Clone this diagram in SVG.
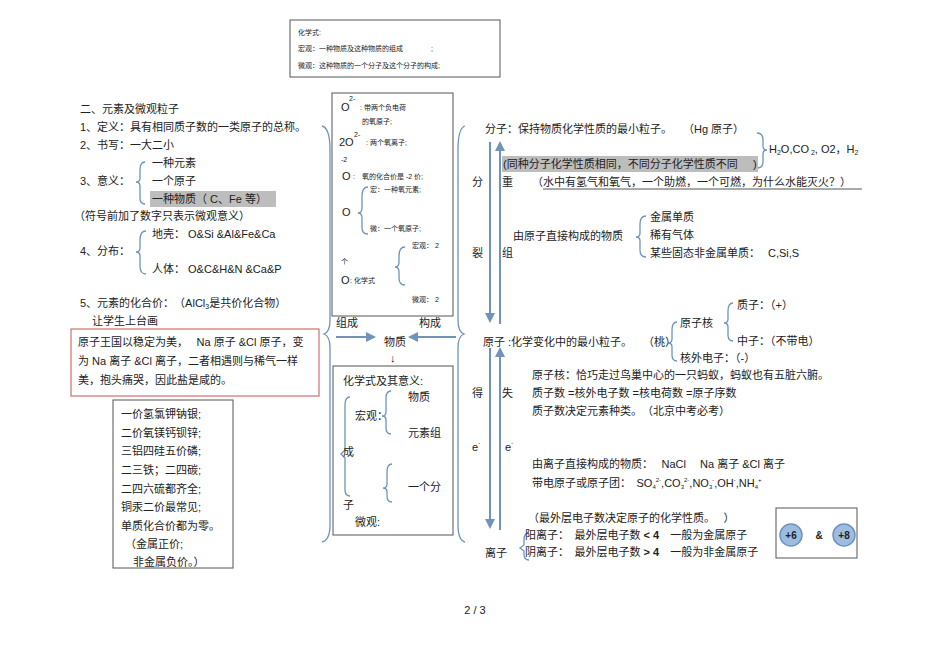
<svg xmlns="http://www.w3.org/2000/svg" width="950" height="672" viewBox="0 0 950 672">
<defs>
<style>
text{font-family:"Liberation Sans","Noto Sans CJK SC",sans-serif;fill:#222}
.t{font-size:11px}
.s{font-size:7px}
.m{font-size:8px}
.br{fill:none;stroke:#6f93bb;stroke-width:1.3}
.box{fill:#fff;stroke:#555;stroke-width:1}
.ar{stroke:#6f93bb;stroke-width:2;fill:none}
</style>
<marker id="ah" viewBox="0 0 10 10" refX="8" refY="5" markerWidth="5" markerHeight="5" orient="auto"><path d="M0,0L10,5L0,10z" fill="#6f93bb"/></marker>
</defs>
<rect width="950" height="672" fill="#fff"/>

<g id="topbox">
<rect class="box" x="290" y="20" width="210" height="57"/>
<text class="s" x="298" y="35">化学式:</text>
<text class="s" x="298" y="51">宏观：一种物质及这种物质的组成　　　　;</text>
<text class="s" x="298" y="68">微观：这种物质的一个分子及这个分子的构成;</text>
</g>

<g id="left">
<text class="t" x="80" y="113">二、元素及微观粒子</text>
<text class="t" x="80" y="131">1、定义：具有相同质子数的一类原子的总称。</text>
<text class="t" x="80" y="149">2、书写：一大二小</text>
<text class="t" x="152" y="167">一种元素</text>
<text class="t" x="80" y="185">3、意义：</text>
<text class="t" x="152" y="185">一个原子</text>
<rect x="150" y="191" width="126" height="16" fill="#bdbdbd"/>
<text class="t" x="152" y="203">一种物质（ C、Fe 等）</text>
<path class="br" d="M145,162 Q140,162 140,170 L140,178 Q140,182 136,182 Q140,182 140,186 L140,198 Q140,204 145,204"/>
<text class="t" x="74" y="220">（符号前加了数字只表示微观意义）</text>
<text class="t" x="152" y="238">地壳： O&amp;Si &amp;Al&amp;Fe&amp;Ca</text>
<text class="t" x="80" y="255">4、分布：</text>
<text class="t" x="152" y="273">人体： O&amp;C&amp;H&amp;N &amp;Ca&amp;P</text>
<path class="br" d="M146,231 Q140,231 140,240 L140,248 Q140,252 136,252 Q140,252 140,256 L140,266 Q140,274 146,274"/>
<text class="t" x="80" y="307">5、元素的化合价：　（AlCl<tspan font-size="7" dy="2">3</tspan><tspan dy="-2">是共价化合物）</tspan></text>
<text class="t" x="92" y="325">让学生上台画</text>
</g>

<g id="redbox">
<rect x="71" y="329" width="248" height="67" fill="#fff" stroke="#d07070" stroke-width="1.2"/>
<text class="t" x="78" y="346">原子王国以稳定为美，　 Na 原子 &amp;Cl 原子，变</text>
<text class="t" x="78" y="365">为 Na 离子 &amp;Cl 离子，二者相遇则与稀气一样</text>
<text class="t" x="78" y="384">美，抱头痛哭，因此盐是咸的。</text>
</g>

<g id="valence">
<rect class="box" x="113" y="400" width="120" height="168"/>
<g font-family="Liberation Serif,Noto Sans CJK SC,serif">
<text class="t" x="121" y="418">一价氢氯钾钠银;</text>
<text class="t" x="121" y="437">二价氧镁钙钡锌;</text>
<text class="t" x="121" y="455">三铝四硅五价磷;</text>
<text class="t" x="121" y="474">二三铁；二四碳;</text>
<text class="t" x="121" y="493">二四六硫都齐全;</text>
<text class="t" x="121" y="511">铜汞二价最常见;</text>
<text class="t" x="121" y="530">单质化合价都为零。</text>
<text class="t" x="125" y="548">（金属正价;</text>
<text class="t" x="133" y="566">非金属负价。）</text>
</g>
</g>

<g id="bigbraces">
<path class="br" d="M322,126 Q330,128 330,150 L330,320 Q330,332 324,334 Q330,336 330,348 L330,525 Q330,540 322,542"/>
<path class="br" d="M465,126 Q458,128 458,150 L458,320 Q458,332 464,334 Q458,336 458,348 L458,525 Q458,540 465,542"/>
</g>

<g id="symbox">
<rect class="box" x="332" y="93" width="121" height="223"/>
<text font-size="11" x="341" y="111">O</text><text class="s" x="349" y="101">2-</text>
<text class="s" x="360" y="110">: 带两个负电荷</text>
<text class="s" x="362" y="124">的氧原子;</text>
<text font-size="11" x="339" y="146">2O</text><text class="s" x="354" y="137">2-</text>
<text class="s" x="366" y="145">: 两个氧离子;</text>
<text class="s" x="341" y="162">-2</text>
<text font-size="11" x="342" y="180">O</text>
<text class="s" x="353" y="179">:　氧的化合价是 -2 价;</text>
<path class="br" d="M368,187 Q362,187 362,196 L362,208 Q362,213 358,213 Q362,213 362,218 L362,228 Q362,234 368,234"/>
<text class="s" x="370" y="192">宏：一种氧元素;</text>
<text font-size="11" x="342" y="216">O</text>
<text class="s" x="370" y="231">微：一个氧原子;</text>
<text class="s" x="412" y="248">宏观： 2</text>
<path class="br" d="M405,247 Q399,247 399,256 L399,262 Q399,267 395,267 Q399,267 399,272 L399,278 Q399,285 405,285"/>
<text class="s" x="341" y="264">个</text>
<text font-size="11" x="341" y="284">O</text><text class="s" x="350" y="283">: 化学式</text>
<text class="s" x="412" y="302">微观： 2</text>
</g>

<g id="wuzhi">
<text class="t" x="336" y="327">组成</text>
<text class="t" x="419" y="327">构成</text>
<line class="ar" x1="336" y1="337" x2="374" y2="337" marker-end="url(#ah)"/>
<line class="ar" x1="456" y1="337" x2="410" y2="337" marker-end="url(#ah)"/>
<text class="t" x="384" y="346">物质</text>
<text class="t" x="390" y="362">↓</text>
</g>

<g id="formulabox">
<rect class="box" x="333" y="366" width="120" height="169"/>
<text class="t" x="343" y="385">化学式及其意义:</text>
<text class="t" x="408" y="401">物质</text>
<text class="t" x="355" y="420">宏观：</text>
<path class="br" d="M391,391 Q386,391 386,398 L386,412 Q386,416 382,416 Q386,416 386,420 L386,428 Q386,434 391,434"/>
<text class="t" x="408" y="437">元素组</text>
<path class="br" d="M350,397 Q345,397 345,405 L345,450 L341,454 L345,458 L345,490 Q345,496 350,496"/>
<text class="t" x="343" y="456">成</text>
<path class="br" d="M392,464 Q387,464 387,472 L387,484 Q387,488 383,488 Q387,488 387,492 L387,496 Q387,502 392,502"/>
<text class="t" x="408" y="491">一个分</text>
<text class="t" x="343" y="509">子</text>
<text class="t" x="355" y="526">微观:</text>
</g>

<g id="connectors">
<line class="ar" x1="490" y1="142" x2="490" y2="321" marker-end="url(#ah)"/>
<line class="ar" x1="500" y1="324" x2="500" y2="143" marker-end="url(#ah)"/>
<line class="ar" x1="490" y1="348" x2="490" y2="527" marker-end="url(#ah)"/>
<line class="ar" x1="500" y1="530" x2="500" y2="349" marker-end="url(#ah)"/>
</g>

<g id="molecule">
<text class="t" x="485" y="133">分子：保持物质化学性质的最小粒子。　　（Hg 原子）</text>
<path class="br" d="M757,133 Q763,133 763,140 L763,146 Q763,150 767,150 Q763,150 763,154 L763,162 Q763,168 757,168"/>
<text class="t" x="769" y="153">H<tspan font-size="7" dy="2">2</tspan><tspan dy="-2">O,CO</tspan><tspan font-size="7" dy="2"> 2</tspan><tspan dy="-2">,  O2，H</tspan><tspan font-size="7" dy="2">2</tspan></text>
<rect x="502" y="156" width="256" height="16" fill="#bdbdbd"/>
<text class="t" x="503" y="168">(同种分子化学性质相同，不同分子化学性质不同</text>
<text class="t" x="753" y="168">)</text>
<text class="t" x="472" y="186">分</text>
<text class="t" x="502" y="186">重</text>
<text class="t" x="532" y="186">（水中有氢气和氧气，一个助燃，一个可燃，为什么水能灭火？）</text>
<line x1="543" y1="189" x2="862" y2="189" stroke="#555" stroke-width="1"/>
<text class="t" x="513" y="240">由原子直接构成的物质</text>
<path class="br" d="M646,216 Q640,216 640,224 L640,233 Q640,237 636,237 Q640,237 640,241 L640,250 Q640,257 646,257"/>
<text class="t" x="650" y="221">金属单质</text>
<text class="t" x="650" y="239">稀有气体</text>
<text class="t" x="650" y="257">某些固态非金属单质：</text>
<text class="t" x="768" y="257">C,Si,S</text>
<text class="t" x="472" y="257">裂</text>
<text class="t" x="502" y="257">组</text>
</g>

<g id="atom">
<text class="t" x="737" y="309">质子：（+）</text>
<path class="br" d="M733,303 Q728,303 728,311 L728,319 Q728,323 724,323 Q728,323 728,327 L728,335 Q728,341 733,341"/>
<text class="t" x="680" y="327">原子核</text>
<text class="t" x="737" y="345">中子：（不带电）</text>
<path class="br" d="M677,322 Q672,322 672,330 L672,339 Q672,343 668,343 Q672,343 672,347 L672,355 Q672,361 677,361"/>
<text class="t" x="680" y="362">核外电子：（-）</text>
<text class="t" x="483" y="346">原子 :化学变化中的最小粒子。</text>
<text class="t" x="643" y="346">（桃）</text>
<text class="t" x="532" y="379">原子核：恰巧走过鸟巢中心的一只蚂蚁，蚂蚁也有五脏六腑。</text>
<text class="t" x="472" y="397">得</text>
<text class="t" x="502" y="397">失</text>
<text class="t" x="532" y="397">质子数 =核外电子数  =核电荷数  =原子序数</text>
<text class="t" x="532" y="415">质子数决定元素种类。　（北京中考必考）</text>
<text class="t" x="472" y="451">e<tspan font-size="6" dy="-6">-</tspan></text>
<text class="t" x="505" y="451">e<tspan font-size="6" dy="-6">-</tspan></text>
</g>

<g id="ion">
<text class="t" x="532" y="468">由离子直接构成的物质：　 NaCl　 Na 离子 &amp;Cl 离子</text>
<text class="t" x="532" y="487">带电原子或原子团：　SO<tspan font-size="6" dy="2">4</tspan><tspan font-size="6" dy="-7">2-</tspan><tspan dy="5">,CO</tspan><tspan font-size="6" dy="2">3</tspan><tspan font-size="6" dy="-7">2-</tspan><tspan dy="5">,NO</tspan><tspan font-size="6" dy="2">3</tspan><tspan font-size="6" dy="-7">-</tspan><tspan dy="5">,OH</tspan><tspan font-size="6" dy="-5">-</tspan><tspan dy="5">,NH</tspan><tspan font-size="6" dy="2">4</tspan><tspan font-size="6" dy="-7">+</tspan></text>
<text class="t" x="528" y="522">（最外层电子数决定原子的化学性质。　 ）</text>
<path class="br" d="M529,533 Q524,533 524,540 L524,545 L520,548 L524,551 L524,554 Q524,560 529,560"/>
<text class="t" x="525" y="539">阳离子：　最外层电子数  <tspan font-weight="bold">&lt; 4</tspan>　一般为金属原子</text>
<text class="t" x="485" y="557">离子</text>
<text class="t" x="525" y="556">阴离子：　最外层电子数  <tspan font-weight="bold">&gt; 4</tspan>　一般为非金属原子</text>
</g>

<g id="circlebox">
<rect class="box" x="776" y="508" width="81" height="50"/>
<circle cx="791" cy="535" r="11" fill="#9dbde0" stroke="#6f93bb" stroke-width="1.5"/>
<text x="791" y="539" font-size="10" font-weight="bold" text-anchor="middle">+6</text>
<text x="819" y="539" font-size="10" font-weight="bold" text-anchor="middle">&amp;</text>
<circle cx="844" cy="535" r="11" fill="#9dbde0" stroke="#6f93bb" stroke-width="1.5"/>
<text x="844" y="539" font-size="10" font-weight="bold" text-anchor="middle">+8</text>
</g>

<text class="t" x="475" y="614" text-anchor="middle">2 / 3</text>
</svg>
